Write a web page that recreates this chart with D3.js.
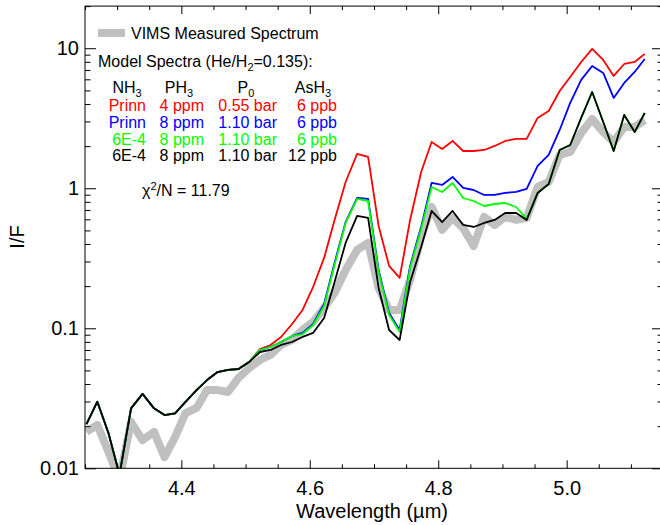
<!DOCTYPE html>
<html><head><meta charset="utf-8">
<script src="https://cdn.jsdelivr.net/npm/d3@7"></script>
<style>body{margin:0;background:#fff;} svg{display:block;font-family:"Liberation Sans",Arial,Helvetica,sans-serif;}</style>
</head><body><svg id="c" width="660" height="525"></svg>
<script>
const wavelength = [4.2523,4.2692,4.2866,4.3037,4.3217,4.3396,4.3575,4.3738,4.3902,4.4065,4.4237,4.4400,4.4564,4.4727,4.4891,4.5055,4.5226,4.5389,4.5553,4.5724,4.5888,4.6051,4.6223,4.6386,4.6558,4.6737,4.6908,4.7072,4.7235,4.7399,4.7562,4.7734,4.7897,4.8061,4.8224,4.8388,4.8551,4.8715,4.8879,4.9042,4.9213,4.9377,4.9548,4.9720,4.9891,5.0055,5.0226,5.0397,5.0569,5.0732,5.0896,5.1059,5.1215];
const vims = [0.0182,0.0204,0.0131,0.0083,0.0214,0.0159,0.0182,0.0120,0.0167,0.0248,0.0270,0.0362,0.0362,0.0351,0.0442,0.0520,0.0594,0.0645,0.0760,0.0825,0.0972,0.1109,0.1396,0.1787,0.261,0.3625,0.407,0.194,0.1351,0.1351,0.2213,0.449,0.735,0.504,0.614,0.520,0.387,0.624,0.547,0.624,0.594,0.614,1.022,1.109,1.729,1.817,2.48,3.13,2.52,2.141,2.74,2.74,3.075];
const modelRed = [0.0207,0.0299,0.0178,0.0090,0.0268,0.0340,0.0268,0.0240,0.0247,0.0298,0.0362,0.0427,0.0487,0.0504,0.0512,0.0574,0.0711,0.0760,0.0867,0.1073,0.1351,0.197,0.318,0.594,1.109,1.758,1.673,0.538,0.279,0.229,0.594,1.307,2.141,1.909,2.177,1.846,1.846,1.877,2.005,2.177,2.25,2.25,3.18,3.565,4.95,6.24,7.98,9.89,8.25,6.34,7.72,7.98,9.11];
const modelBlue = [0.0207,0.0299,0.0178,0.0090,0.0268,0.0340,0.0268,0.0240,0.0247,0.0298,0.0362,0.0427,0.0487,0.0504,0.0512,0.0574,0.0700,0.0735,0.0798,0.0881,0.0926,0.1073,0.1491,0.293,0.574,0.852,0.839,0.261,0.1286,0.0972,0.279,0.529,1.091,1.056,1.204,1.005,0.972,0.896,0.896,0.926,0.941,0.989,1.443,1.729,2.609,4.07,5.94,7.47,6.66,4.42,5.65,6.77,8.39];
const modelGreen = [0.0207,0.0299,0.0178,0.0090,0.0268,0.0340,0.0268,0.0240,0.0247,0.0298,0.0362,0.0427,0.0487,0.0504,0.0512,0.0574,0.0700,0.0735,0.0798,0.0881,0.0910,0.1056,0.1443,0.283,0.565,0.839,0.811,0.2525,0.1245,0.0941,0.270,0.512,1.022,0.941,1.091,0.852,0.811,0.747,0.772,0.785,0.735,0.604,0.926,1.073,1.877,2.038,3.18,4.87,2.976,1.846,3.34,2.52,3.45];
const modelBlack = [0.0207,0.0299,0.0178,0.0090,0.0268,0.0340,0.0268,0.0240,0.0247,0.0298,0.0362,0.0427,0.0487,0.0504,0.0512,0.0574,0.0677,0.0700,0.0760,0.0798,0.0867,0.0926,0.1185,0.214,0.407,0.634,0.614,0.194,0.0972,0.0825,0.214,0.381,0.689,0.574,0.689,0.547,0.529,0.565,0.594,0.666,0.666,0.594,0.926,1.073,1.877,2.038,3.18,4.87,2.976,1.846,3.34,2.52,3.45];
const xMajorTicks = [4.4,4.6,4.8,5.0];
const yMajorTicks = [0.01,0.1,1,10];
const legendRows = [
  {c:"#ff0000", cells:["Prinn","4 ppm","0.55 bar","6 ppb"]},
  {c:"#0000ff", cells:["Prinn","8 ppm","1.10 bar","6 ppb"]},
  {c:"#00ff00", cells:["6E-4","8 ppm","1.10 bar","6 ppb"]},
  {c:"#000000", cells:["6E-4","8 ppm","1.10 bar","12 ppb"]}
];

const svg = d3.select("#c");
const L=85, R=663, T=6.1, B=468.3;
const x = d3.scaleLinear().domain([4.25,5.15]).range([L,R]);
const y = d3.scaleLog().domain([0.01,20]).range([B,T]);

svg.append("clipPath").attr("id","clip").append("rect").attr("x",L).attr("y",T).attr("width",R-L).attr("height",B-T);

const line = vals => d3.line().x((d,i)=>x(wavelength[i])).y(d=>y(d))(vals);
const g = svg.append("g").attr("clip-path","url(#clip)");
g.append("path").attr("d",line(vims)).attr("fill","none").attr("stroke","#c0c0c0").attr("stroke-width",8).attr("stroke-linejoin","round");
[[modelRed,"#ff0000"],[modelBlue,"#0000ff"],[modelGreen,"#00ff00"],[modelBlack,"#000000"]].forEach(([v,c])=>{
  g.append("path").attr("d",line(v)).attr("fill","none").attr("stroke",c).attr("stroke-width",1.8).attr("stroke-linejoin","round");
});

// axes
const xMinor = d3.range(4.25,5.151,0.05).map(v=>+v.toFixed(2)).filter(v=>!xMajorTicks.some(m=>Math.abs(m-v)<1e-6));
const yMinor = [];
[0.01,0.1,1,10].forEach(d=>{for(let k=2;k<=9;k++){const v=d*k; if(v<=20) yMinor.push(+v.toPrecision(3));}});

function styleAxis(sel){sel.select(".domain").remove(); sel.selectAll("line").attr("stroke","#000"); sel.selectAll("text").attr("fill","#000").style("font-size","20px").style("font-family","'Liberation Sans',Arial,sans-serif");}

svg.append("g").attr("transform",`translate(0,${B})`).call(d3.axisBottom(x).tickValues(xMajorTicks).tickSize(-8).tickPadding(13).tickFormat(d3.format(".1f"))).call(styleAxis);
svg.append("g").attr("transform",`translate(0,${B})`).call(d3.axisBottom(x).tickValues(xMinor).tickSize(-4).tickFormat("")).call(styleAxis);
svg.append("g").attr("transform",`translate(0,${T})`).call(d3.axisTop(x).tickValues(xMajorTicks).tickSize(-8).tickFormat("")).call(styleAxis);
svg.append("g").attr("transform",`translate(0,${T})`).call(d3.axisTop(x).tickValues(xMinor).tickSize(-4).tickFormat("")).call(styleAxis);
svg.append("g").attr("transform",`translate(${L},0)`).call(d3.axisLeft(y).tickValues(yMajorTicks).tickSize(-11).tickPadding(6).tickFormat(d=>String(d))).call(styleAxis);
svg.append("g").attr("transform",`translate(${L},0)`).call(d3.axisLeft(y).tickValues(yMinor).tickSize(-5.5).tickFormat("")).call(styleAxis);
svg.append("g").attr("transform",`translate(${R},0)`).call(d3.axisRight(y).tickValues(yMajorTicks).tickSize(-11).tickFormat("")).call(styleAxis);
svg.append("g").attr("transform",`translate(${R},0)`).call(d3.axisRight(y).tickValues(yMinor).tickSize(-5.5).tickFormat("")).call(styleAxis);
svg.append("rect").attr("x",L).attr("y",T).attr("width",R-L).attr("height",B-T).attr("fill","none").attr("stroke","#000").attr("stroke-width",1);

// axis titles
svg.append("text").attr("x",(L+R)/2-2).attr("y",518).attr("text-anchor","middle").style("font-size","20px").text("Wavelength (\u00b5m)");
svg.append("text").attr("transform","translate(24,237) rotate(-90)").attr("text-anchor","middle").style("font-size","20px").text("I/F");

// legend
svg.append("line").attr("x1",98).attr("x2",125).attr("y1",33).attr("y2",33).attr("stroke","#c0c0c0").attr("stroke-width",8);
svg.append("text").attr("x",131).attr("y",39).style("font-size","16px").text("VIMS Measured Spectrum");
const ms = svg.append("text").attr("x",98).attr("y",67).style("font-size","16px");
ms.append("tspan").text("Model Spectra (He/H");
ms.append("tspan").attr("dy",4).style("font-size","11px").text("2");
ms.append("tspan").attr("dy",-4).text("=0.135):");

const heads = [{t:"NH",s:"3",x:127},{t:"PH",s:"3",x:179},{t:"P",s:"0",x:246},{t:"AsH",s:"3",x:313}];
heads.forEach(h=>{
  const t = svg.append("text").attr("x",h.x).attr("y",93).attr("text-anchor","middle").style("font-size","16px");
  t.append("tspan").text(h.t);
  t.append("tspan").attr("dy",4).style("font-size","11px").text(h.s);
});
const colX = [146,204,277,337];
legendRows.forEach((r,i)=>{
  r.cells.forEach((c,j)=>{
    svg.append("text").attr("x",colX[j]).attr("y",111+i*16.8).attr("text-anchor","end").attr("fill",r.c).style("font-size","16px").text(c);
  });
});
const chi = svg.append("text").attr("x",142).attr("y",196).style("font-size","16px");
chi.append("tspan").text("\u03c7");
chi.append("tspan").attr("dy",-6).style("font-size","11px").text("2");
chi.append("tspan").attr("dy",6).text("/N = 11.79");
</script></body></html>
